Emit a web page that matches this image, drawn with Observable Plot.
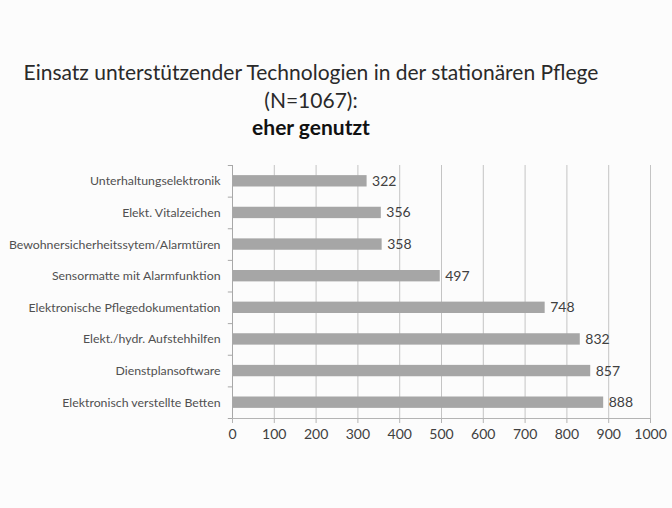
<!DOCTYPE html>
<html>
<head>
<meta charset="utf-8">
<script src="https://cdn.jsdelivr.net/npm/d3@7"></script>
<script src="https://cdn.jsdelivr.net/npm/@observablehq/plot@0.6"></script>
<style>
  html, body { margin: 0; padding: 0; background: #fcfcfc; }
  #wrap { position: relative; width: 672px; height: 508px; overflow: hidden; font-family: Lato, "Open Sans", sans-serif; }
  .t { position: absolute; left: 0; width: 622px; text-align: center; color: #2a2a2a; white-space: nowrap; }
  #t1 { top: 59px; font-size: 21px; }
  #t2 { top: 87px; font-size: 21px; }
  #t3 { top: 114px; font-size: 21px; font-weight: bold; color: #111; }
  #chart { position: absolute; left: 0; top: 150px; }
</style>
</head>
<body>
<div id="wrap">
  <div class="t" id="t1">Einsatz unterstützender Technologien in der stationären Pflege</div>
  <div class="t" id="t2">(N=1067):</div>
  <div class="t" id="t3">eher genutzt</div>
  <div id="chart"></div>
</div>
<script>
const categories = [
  "Unterhaltungselektronik",
  "Elekt. Vitalzeichen",
  "Bewohnersicherheitssytem/Alarmtüren",
  "Sensormatte mit Alarmfunktion",
  "Elektronische Pflegedokumentation",
  "Elekt./hydr. Aufstehhilfen",
  "Dienstplansoftware",
  "Elektronisch verstellte Betten"
];
const values = [322, 356, 358, 497, 748, 832, 857, 888];
const xTicks = [0, 100, 200, 300, 400, 500, 600, 700, 800, 900, 1000];

const data = categories.map((c, i) => ({category: c, value: values[i]}));

const W = 672, H = 358, mT = 15, mB = 90, mL = 232, mR = 22;
const step = (H - mT - mB) / categories.length;

const plot = Plot.plot({
  width: W,
  height: H,
  marginTop: mT,
  marginBottom: mB,
  marginLeft: mL,
  marginRight: mR,
  style: { background: "transparent", fontFamily: "Lato, 'Open Sans', sans-serif", color: "#404040" },
  x: { domain: [0, 1000], ticks: xTicks, label: null },
  y: { domain: categories, paddingInner: 0.64, paddingOuter: 0.32, round: false, label: null },
  marks: [
    Plot.gridX(xTicks.filter(d => d > 0), { stroke: "#c4c4c4", strokeOpacity: 1, strokeWidth: 1 }),
    Plot.ruleY(categories, { y: d => d, x1: -10, x2: 0, dy: -step / 2, stroke: "#a8a8a8" }),
    Plot.ruleY([categories[categories.length - 1]], { y: d => d, x1: -10, x2: 0, dy: step / 2, stroke: "#a8a8a8" }),
    Plot.barX(data, { y: "category", x: "value", fill: "#a6a6a6" }),
    Plot.ruleX([0], { stroke: "#a8a8a8" }),
    Plot.ruleY([categories[categories.length - 1]], { y: d => d, x1: 0, x2: 1000, dy: step / 2, stroke: "#b4b4b4" }),
    Plot.axisX({ ticks: xTicks, tickFormat: d => String(d), tickSize: 5, tickPadding: 6, fontSize: 14, stroke: "#b4b4b4", label: null, color: "#404040" }),
    Plot.axisY({ tickSize: 0, tickPadding: 12, fontSize: 12.3, label: null, color: "#505050" }),
    Plot.text(data, { y: "category", x: "value", text: d => String(d.value), textAnchor: "start", dx: 5, fontSize: 14, fill: "#404040" })
  ]
});
document.getElementById("chart").appendChild(plot);
</script>
</body>
</html>
